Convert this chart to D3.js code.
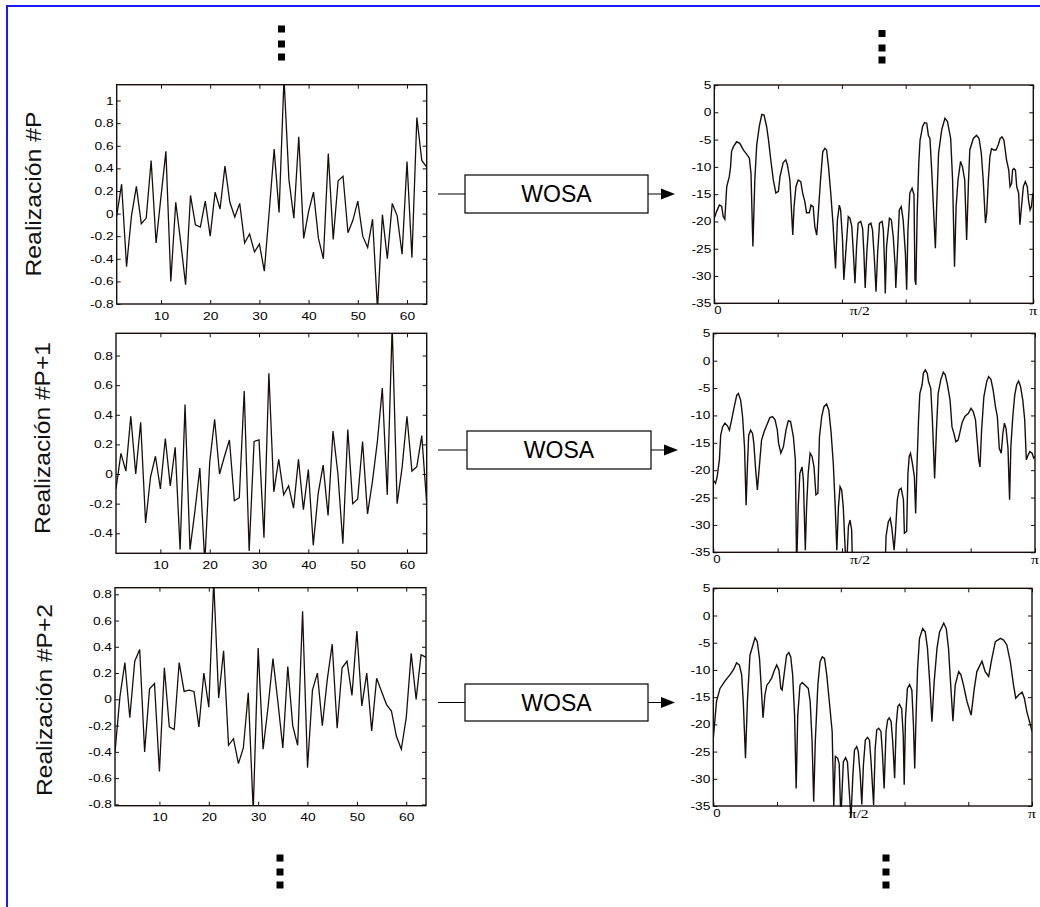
<!DOCTYPE html>
<html>
<head>
<meta charset="utf-8">
<script src="https://cdn.jsdelivr.net/npm/d3@7"></script>
<style>
body { margin: 0; background: #fff; }
svg { display: block; }
.tick text { font-family: "Liberation Sans", Arial, sans-serif; font-size: 11px; fill: #000; }
.tick line { stroke: #1a0d0d; }
</style>
</head>
<body>
<svg id="fig" width="1040" height="907"></svg>
<script>
// ----------------- DATA -----------------

// time signals, samples 1..64
var sig1 = [-0.02, 0.26, -0.47, -0.02, 0.24, -0.09, -0.04, 0.47, -0.26, 0.15,
            0.55, -0.60, 0.10, -0.25, -0.63, 0.16, -0.10, -0.12, 0.11, -0.20,
            0.19, 0.04, 0.42, 0.10, -0.03, 0.09, -0.26, -0.18, -0.34, -0.27,
            -0.51, 0.02, 0.57, 0.01, 1.20, 0.30, -0.04, 0.68, -0.22, 0.02,
            0.19, -0.22, -0.40, 0.53, -0.23, 0.29, 0.33, -0.17, -0.06, 0.11,
            -0.20, -0.30, -0.05, -0.85, -0.01, -0.40, 0.09, -0.02, -0.36, 0.46,
            -0.39, 0.85, 0.47, 0.41];
var sig2 = [-0.10, 0.14, 0.02, 0.39, 0.00, 0.35, -0.33, -0.02, 0.12, -0.10,
            0.24, -0.08, 0.18, -0.51, 0.47, -0.51, -0.25, 0.04, -0.60, 0.08,
            0.37, 0.00, 0.12, 0.23, -0.18, -0.16, 0.56, -0.52, 0.22, 0.23,
            -0.43, 0.68, -0.12, 0.10, -0.14, -0.08, -0.23, 0.10, -0.24, 0.03,
            -0.48, -0.13, 0.06, -0.28, 0.29, 0.00, -0.47, 0.30, -0.20, -0.17,
            0.22, -0.27, -0.05, 0.22, 0.58, -0.14, 1.00, -0.20, 0.04, 0.39,
            0.02, 0.05, 0.26, -0.20];
var sig3 = [-0.40, 0.02, 0.28, -0.14, 0.29, 0.38, -0.40, 0.08, 0.12, -0.55,
            0.24, -0.21, -0.23, 0.28, 0.06, 0.07, 0.06, -0.21, 0.20, -0.06,
            0.90, 0.01, 0.37, -0.35, -0.30, -0.49, -0.37, 0.05, -0.85, 0.39,
            -0.38, -0.06, 0.31, -0.02, -0.37, 0.25, -0.20, -0.35, 0.67, -0.52,
            0.07, 0.20, -0.20, 0.15, 0.42, -0.22, 0.24, 0.29, 0.03, 0.52,
            -0.05, 0.20, -0.24, 0.16, 0.06, -0.04, -0.09, -0.28, -0.38, -0.14,
            0.35, 0.00, 0.34, 0.32];

// WOSA spectra: [frequency / pi, dB]
var spec1 = [[0.000,-19.4],[0.007,-18.2],[0.016,-17.0],[0.023,-17.2],[0.028,-19.1],[0.033,-19.6],[0.039,-13.6],[0.047,-11.8],[0.051,-10.0],[0.054,-7.2],
  [0.060,-6.3],[0.070,-5.4],[0.080,-5.7],[0.091,-6.9],[0.103,-7.8],[0.110,-8.4],[0.115,-11.2],[0.121,-24.6],[0.127,-12.4],[0.133,-6.0],
  [0.141,-2.6],[0.149,-0.4],[0.156,-0.5],[0.164,-2.6],[0.170,-5.1],[0.177,-8.7],[0.185,-12.4],[0.193,-14.8],[0.201,-14.5],[0.206,-11.8],
  [0.216,-9.2],[0.224,-8.7],[0.229,-9.6],[0.237,-12.4],[0.246,-22.5],[0.250,-17.3],[0.256,-13.6],[0.263,-12.4],[0.271,-12.7],[0.277,-14.8],
  [0.284,-16.4],[0.289,-18.4],[0.298,-18.4],[0.303,-17.0],[0.310,-17.3],[0.315,-20.9],[0.321,-22.5],[0.326,-18.5],[0.333,-12.4],[0.340,-7.2],
  [0.347,-6.6],[0.352,-6.9],[0.358,-10.0],[0.365,-14.8],[0.372,-20.3],[0.380,-28.6],[0.386,-19.7],[0.392,-17.0],[0.396,-17.9],[0.402,-23.4],
  [0.406,-30.7],[0.412,-25.8],[0.420,-19.1],[0.425,-19.4],[0.431,-20.9],[0.436,-25.8],[0.441,-31.3],[0.446,-24.6],[0.451,-20.3],[0.459,-20.0],
  [0.465,-21.3],[0.469,-25.8],[0.473,-32.2],[0.478,-25.8],[0.484,-20.6],[0.491,-20.3],[0.496,-21.6],[0.502,-27.1],[0.507,-32.9],[0.512,-25.8],
  [0.518,-20.3],[0.526,-20.0],[0.530,-21.6],[0.534,-28.3],[0.536,-33.2],[0.540,-24.6],[0.549,-19.4],[0.555,-19.7],[0.561,-22.8],[0.567,-28.3],
  [0.569,-32.2],[0.575,-24.6],[0.580,-17.9],[0.586,-17.3],[0.592,-19.7],[0.599,-25.8],[0.603,-32.5],[0.607,-21.6],[0.613,-14.8],[0.620,-13.9],
  [0.626,-15.1],[0.629,-30.7],[0.632,-31.6],[0.636,-18.5],[0.641,-9.3],[0.645,-5.1],[0.647,-4.5],[0.653,-2.6],[0.659,-1.9],[0.666,-2.0],
  [0.671,-4.2],[0.676,-4.8],[0.682,-11.2],[0.693,-24.9],[0.697,-17.3],[0.703,-7.5],[0.713,-3.2],[0.723,-1.1],[0.731,-1.7],[0.741,-4.8],
  [0.747,-12.4],[0.753,-28.3],[0.758,-17.3],[0.764,-12.4],[0.772,-9.0],[0.778,-10.0],[0.785,-12.4],[0.791,-23.4],[0.797,-12.4],[0.801,-6.9],
  [0.812,-4.8],[0.822,-4.2],[0.830,-4.8],[0.837,-7.5],[0.843,-12.4],[0.850,-20.3],[0.854,-18.5],[0.859,-12.4],[0.864,-8.1],[0.869,-6.7],
  [0.877,-6.9],[0.883,-6.9],[0.890,-6.0],[0.896,-4.8],[0.902,-4.5],[0.908,-5.1],[0.916,-8.7],[0.923,-10.6],[0.927,-13.6],[0.932,-13.0],
  [0.935,-10.6],[0.939,-10.3],[0.944,-10.6],[0.948,-13.6],[0.954,-14.8],[0.958,-20.6],[0.963,-17.3],[0.969,-13.6],[0.975,-12.7],[0.981,-13.6],
  [0.985,-16.1],[0.990,-17.9],[0.994,-17.3],[0.998,-15.1],[1.000,-14.8]];
var spec2 = [[0.000,-21.8],[0.007,-22.4],[0.012,-21.2],[0.019,-18.1],[0.023,-13.6],[0.029,-12.1],[0.036,-11.4],[0.044,-11.9],[0.050,-12.7],[0.057,-10.8],
  [0.064,-8.7],[0.073,-6.3],[0.078,-6.0],[0.085,-7.2],[0.091,-10.2],[0.097,-15.7],[0.102,-26.4],[0.106,-19.4],[0.110,-13.6],[0.116,-12.7],
  [0.122,-13.3],[0.126,-15.1],[0.131,-19.4],[0.137,-23.6],[0.143,-19.4],[0.150,-14.5],[0.158,-13.0],[0.166,-11.8],[0.176,-10.4],[0.184,-10.2],
  [0.192,-10.8],[0.199,-12.7],[0.203,-15.1],[0.210,-16.9],[0.218,-15.7],[0.226,-12.7],[0.233,-11.0],[0.240,-11.1],[0.249,-13.9],[0.255,-18.1],
  [0.259,-38.0],[0.264,-26.7],[0.269,-20.6],[0.276,-19.4],[0.280,-21.8],[0.286,-34.6],[0.290,-26.7],[0.295,-20.6],[0.301,-16.9],[0.307,-17.5],
  [0.313,-19.4],[0.319,-24.5],[0.325,-24.2],[0.330,-13.9],[0.337,-10.2],[0.344,-8.4],[0.352,-7.9],[0.359,-9.0],[0.366,-13.0],[0.373,-18.8],
  [0.379,-26.7],[0.384,-34.6],[0.389,-26.7],[0.394,-23.0],[0.399,-23.6],[0.404,-26.7],[0.410,-34.6],[0.415,-37.0],[0.420,-30.3],[0.425,-29.1],
  [0.430,-30.9],[0.433,-38.0],[0.480,-40.0],[0.534,-38.0],[0.537,-32.1],[0.544,-29.4],[0.550,-28.8],[0.555,-30.6],[0.562,-34.6],[0.566,-31.5],
  [0.572,-25.4],[0.578,-23.6],[0.584,-23.3],[0.591,-25.4],[0.594,-31.5],[0.601,-31.2],[0.605,-20.6],[0.609,-17.5],[0.613,-16.9],[0.619,-18.8],
  [0.625,-21.2],[0.629,-27.9],[0.633,-19.4],[0.638,-10.8],[0.642,-6.0],[0.649,-4.4],[0.653,-2.3],[0.659,-1.7],[0.665,-2.3],[0.669,-3.8],
  [0.676,-5.1],[0.681,-10.8],[0.688,-21.5],[0.694,-12.1],[0.699,-6.0],[0.707,-3.5],[0.715,-2.1],[0.721,-2.6],[0.728,-4.4],[0.736,-7.2],
  [0.742,-12.1],[0.748,-13.3],[0.754,-14.8],[0.761,-14.5],[0.767,-13.0],[0.773,-11.4],[0.782,-10.2],[0.793,-9.6],[0.801,-8.7],[0.808,-9.3],
  [0.815,-10.8],[0.821,-15.1],[0.825,-18.1],[0.829,-19.4],[0.834,-12.7],[0.841,-6.6],[0.850,-3.8],[0.856,-2.9],[0.863,-3.4],[0.870,-5.4],
  [0.877,-8.4],[0.883,-10.2],[0.889,-16.0],[0.895,-16.9],[0.900,-13.3],[0.905,-11.4],[0.910,-12.4],[0.916,-16.0],[0.921,-25.4],[0.925,-15.7],
  [0.931,-10.2],[0.937,-6.3],[0.943,-4.4],[0.949,-3.7],[0.955,-4.7],[0.962,-7.2],[0.968,-10.8],[0.973,-18.1],[0.979,-17.2],[0.984,-16.6],
  [0.991,-16.9],[0.996,-17.8],[1.000,-17.5]];
var spec3 = [[0.000,-22.6],[0.010,-15.8],[0.021,-13.4],[0.037,-12.0],[0.052,-10.9],[0.063,-10.0],[0.073,-8.7],[0.082,-9.1],[0.089,-10.9],[0.094,-15.8],
  [0.101,-26.2],[0.107,-15.8],[0.115,-7.3],[0.131,-4.1],[0.138,-4.8],[0.145,-7.9],[0.150,-12.8],[0.156,-18.8],[0.162,-14.6],[0.168,-12.8],
  [0.176,-12.2],[0.183,-11.5],[0.192,-10.0],[0.199,-9.1],[0.206,-10.0],[0.212,-13.4],[0.216,-13.7],[0.222,-10.9],[0.230,-7.3],[0.237,-6.8],
  [0.243,-7.6],[0.249,-10.9],[0.255,-18.3],[0.260,-31.8],[0.265,-18.3],[0.272,-12.8],[0.279,-12.3],[0.288,-12.8],[0.298,-13.4],[0.304,-15.8],
  [0.310,-23.2],[0.315,-34.2],[0.320,-23.2],[0.328,-12.8],[0.335,-8.5],[0.342,-7.6],[0.349,-7.9],[0.356,-10.9],[0.364,-15.8],[0.373,-21.3],
  [0.378,-35.0],[0.383,-25.9],[0.390,-26.2],[0.395,-27.2],[0.399,-35.0],[0.402,-35.0],[0.408,-26.9],[0.415,-26.1],[0.421,-26.9],[0.426,-31.8],
  [0.432,-37.2],[0.438,-29.3],[0.443,-24.7],[0.450,-24.1],[0.455,-25.0],[0.461,-29.3],[0.466,-34.7],[0.471,-27.5],[0.477,-22.9],[0.484,-22.4],
  [0.490,-22.9],[0.495,-26.9],[0.503,-34.8],[0.508,-24.4],[0.513,-21.0],[0.519,-20.7],[0.526,-21.3],[0.531,-25.6],[0.536,-31.8],[0.542,-21.3],
  [0.547,-19.2],[0.552,-18.8],[0.558,-19.5],[0.563,-23.2],[0.569,-29.9],[0.574,-20.1],[0.579,-16.7],[0.584,-16.3],[0.591,-17.1],[0.596,-22.0],
  [0.599,-31.1],[0.603,-18.9],[0.609,-13.4],[0.616,-12.7],[0.623,-13.7],[0.628,-20.1],[0.632,-28.1],[0.636,-18.9],[0.641,-9.7],[0.647,-4.2],
  [0.657,-2.4],[0.665,-3.0],[0.672,-6.0],[0.679,-12.2],[0.686,-19.5],[0.693,-12.2],[0.702,-6.0],[0.710,-3.0],[0.723,-1.4],[0.731,-2.4],
  [0.738,-6.0],[0.743,-10.9],[0.752,-19.4],[0.759,-12.8],[0.770,-10.3],[0.777,-10.9],[0.785,-12.8],[0.796,-15.8],[0.809,-18.3],[0.819,-13.4],
  [0.827,-10.3],[0.843,-8.4],[0.853,-10.3],[0.864,-11.2],[0.874,-7.9],[0.885,-4.8],[0.901,-4.2],[0.911,-4.5],[0.921,-5.4],[0.932,-8.5],
  [0.942,-12.8],[0.949,-15.2],[0.958,-14.6],[0.969,-14.1],[0.976,-15.2],[0.984,-17.7],[0.995,-20.1],[1.000,-21.3]];

// axes and labels
var sampleTicks = [10, 20, 30, 40, 50, 60];
var ampTicks1 = [-0.8, -0.6, -0.4, -0.2, 0, 0.2, 0.4, 0.6, 0.8, 1];
var ampTicks2 = [-0.4, -0.2, 0, 0.2, 0.4, 0.6, 0.8];
var ampTicks3 = [-0.8, -0.6, -0.4, -0.2, 0, 0.2, 0.4, 0.6, 0.8];
var dbTicks = [-35, -30, -25, -20, -15, -10, -5, 0, 5];
var freqTicks = [0, 0.2, 0.4, 0.6, 0.8, 1];
var freqLabels = [[0, '0'], [0.5, 'π/2'], [1, 'π']];
var rowLabels = ['Realización #P', 'Realización #P+1', 'Realización #P+2'];
var blockLabel = 'WOSA';

// ----------------- LAYOUT -----------------

var ink = '#1a0d0d';
var svg = d3.select('#fig');
var clipId = 0;

var rows = [
    {sig: sig1, yDom: [-0.8, 1.14], yTicks: ampTicks1, spec: spec1,
     L: {x0: 116.7, x1: 426.7, y0: 84.7, y1: 304},
     R: {x0: 714.3, x1: 1033.3, y0: 85, y1: 303.3}, specOver: 0,
     box: {x: 465, y: 175, w: 183, h: 38}, labY: 194, labX: 41, labLen: 165},
    {sig: sig2, yDom: [-0.535, 0.95], yTicks: ampTicks2, spec: spec2,
     L: {x0: 116, x1: 426.7, y0: 333.3, y1: 553.3},
     R: {x0: 713.3, x1: 1035, y0: 333.3, y1: 552.3}, specOver: 0,
     box: {x: 467, y: 431, w: 184, h: 38}, labY: 438, labX: 50, labLen: 192},
    {sig: sig3, yDom: [-0.81, 0.85], yTicks: ampTicks3, spec: spec3,
     L: {x0: 115, x1: 426, y0: 587.7, y1: 805.7},
     R: {x0: 713.3, x1: 1032, y0: 588.3, y1: 806}, specOver: 12,
     box: {x: 465, y: 684, w: 183, h: 37}, labY: 700, labX: 52, labLen: 192}
];

function fmt(d) { return String(Math.round(d * 10) / 10); }

// the original figure's text is a bit wider than the font
function stretch(sel, k) {
    sel.each(function() {
        var n = this.getComputedTextLength();
        d3.select(this).attr('textLength', n * k).attr('lengthAdjust', 'spacingAndGlyphs');
    });
}

function addClip(p, extra) {
    var id = 'clip' + (clipId++);
    svg.append('clipPath').attr('id', id).append('rect')
        .attr('x', p.x0).attr('y', p.y0)
        .attr('width', p.x1 - p.x0).attr('height', p.y1 - p.y0 + (extra || 0));
    return 'url(#' + id + ')';
}

// box with inner ticks on all four sides, matlab style
function frameAxes(g, p, x, y, xTicks, yTicks, xFmt, yFmt) {
    g.append('g').attr('transform', 'translate(0,' + p.y1 + ')')
        .call(d3.axisBottom(x).tickValues(xTicks).tickSizeInner(-4).tickSizeOuter(0).tickPadding(8).tickFormat(xFmt));
    g.append('g').attr('transform', 'translate(0,' + p.y0 + ')')
        .call(d3.axisTop(x).tickValues(xTicks).tickSizeInner(-4).tickSizeOuter(0).tickFormat(''));
    g.append('g').attr('transform', 'translate(' + p.x0 + ',0)')
        .call(d3.axisLeft(y).tickValues(yTicks).tickSizeInner(-4).tickSizeOuter(0).tickPadding(3).tickFormat(yFmt));
    g.append('g').attr('transform', 'translate(' + p.x1 + ',0)')
        .call(d3.axisRight(y).tickValues(yTicks).tickSizeInner(-4).tickSizeOuter(0).tickFormat(''));
    g.selectAll('.domain').remove();
    stretch(g.selectAll('.tick text').filter(function() { return this.textContent !== ''; }), 1.25);
}

function drawFrame(g, p) {
    g.append('rect').attr('x', p.x0).attr('y', p.y0)
        .attr('width', p.x1 - p.x0).attr('height', p.y1 - p.y0)
        .attr('fill', 'none').attr('stroke', ink).attr('stroke-width', 1.4);
}

function drawSignal(r) {
    var p = r.L;
    var x = d3.scaleLinear().domain([1, 64]).range([p.x0, p.x1]);
    var y = d3.scaleLinear().domain(r.yDom).range([p.y1, p.y0]);
    var g = svg.append('g');
    frameAxes(g, p, x, y, sampleTicks, r.yTicks, fmt, fmt);
    var line = d3.line().x(function(d, i) { return x(i + 1); }).y(function(d) { return y(d); });
    g.append('path').datum(r.sig).attr('clip-path', addClip(p))
        .attr('d', line).attr('fill', 'none').attr('stroke', ink).attr('stroke-width', 1.3);
    drawFrame(g, p);
}

function drawSpectrum(r) {
    var p = r.R;
    var x = d3.scaleLinear().domain([0, 1]).range([p.x0, p.x1]);
    var y = d3.scaleLinear().domain([-35, 5]).range([p.y1, p.y0]);
    var g = svg.append('g');
    frameAxes(g, p, x, y, freqTicks, dbTicks, '', fmt);
    var line = d3.line().x(function(d) { return x(d[0]); }).y(function(d) { return y(d[1]); });
    g.append('path').datum(r.spec).attr('clip-path', addClip(p, r.specOver))
        .attr('d', line).attr('fill', 'none').attr('stroke', ink).attr('stroke-width', 1.4);
    drawFrame(g, p);
    var labs = g.selectAll('text.flab').data(freqLabels).enter().append('text')
        .attr('class', 'flab')
        .attr('x', function(d) { return x(d[0]) + (d[0] === 0.5 ? -14 : 0); })
        .attr('y', function(d) { return p.y1 + (d[0] === 0 ? 11 : 12); })
        .attr('text-anchor', function(d) { return d[0] === 0 ? 'start' : 'middle'; })
        .style('font-family', function(d) { return d[0] === 0 ? '"Liberation Sans", Arial, sans-serif' : '"Liberation Serif", "Times New Roman", serif'; })
        .style('font-size', function(d) { return d[0] === 0 ? '11px' : '13px'; })
        .text(function(d) { return d[1]; });
    stretch(labs, 1.2);
}

function drawBlock(r) {
    var b = r.box, cy = b.y + b.h / 2;
    var g = svg.append('g');
    g.append('line').attr('x1', 438).attr('x2', b.x).attr('y1', cy).attr('y2', cy)
        .attr('stroke', '#000').attr('stroke-width', 1);
    g.append('rect').attr('x', b.x).attr('y', b.y).attr('width', b.w).attr('height', b.h)
        .attr('fill', '#fff').attr('stroke', '#000').attr('stroke-width', 1.2);
    g.append('text').attr('x', b.x + b.w / 2).attr('y', cy + 8)
        .attr('text-anchor', 'middle')
        .style('font-family', '"Liberation Sans", Arial, sans-serif').style('font-size', '23px')
        .text(blockLabel);
    var ax = b.x + b.w;
    g.append('line').attr('x1', ax).attr('x2', ax + 14).attr('y1', cy).attr('y2', cy)
        .attr('stroke', '#000').attr('stroke-width', 1);
    g.append('path').attr('d', 'M' + (ax + 13) + ',' + (cy - 5.5) + 'L' + (ax + 27) + ',' + cy + 'L' + (ax + 13) + ',' + (cy + 5.5) + 'Z')
        .attr('fill', '#000');
}

rows.forEach(function(r, i) {
    drawSignal(r);
    drawSpectrum(r);
    drawBlock(r);
    svg.append('text')
        .attr('transform', 'translate(' + r.labX + ',' + r.labY + ') rotate(-90)')
        .attr('text-anchor', 'middle')
        .attr('textLength', r.labLen).attr('lengthAdjust', 'spacingAndGlyphs')
        .style('font-family', '"Liberation Sans", Arial, sans-serif').style('font-size', '22px')
        .style('fill', '#111')
        .text(rowLabels[i]);
});

// vertical ellipsis squares
var dotCols = [{x: 281.5, ys: [29, 44, 57]}, {x: 882, ys: [33.5, 48, 60]},
               {x: 280, ys: [858, 872, 885]}, {x: 886, ys: [858, 872, 885]}];
dotCols.forEach(function(c) {
    svg.selectAll(null).data(c.ys).enter().append('rect')
        .attr('x', c.x - 3.5).attr('y', function(d) { return d - 3.5; })
        .attr('width', 7).attr('height', 7).attr('fill', '#000');
});

// blue outer border
svg.append('rect').attr('x', 7).attr('y', 6).attr('width', 1100).attr('height', 1000)
    .attr('fill', 'none').attr('stroke', '#1a1aff').attr('stroke-width', 2);
</script>
</body>
</html>
